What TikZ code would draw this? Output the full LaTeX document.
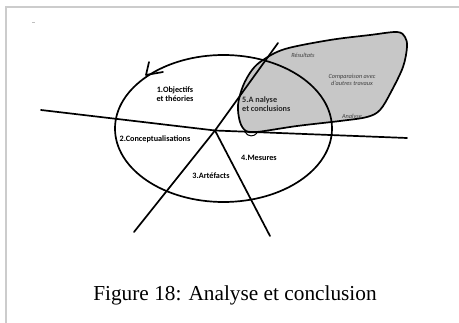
\documentclass[tikz,border=0pt]{standalone}
\usepackage{fontspec}
\setmainfont{Liberation Serif}
\newfontfamily\labfont{Carlito}
\begin{document}
\begin{tikzpicture}[x=1pt,y=-1pt,
  frameline/.style={draw=black!20,line width=1.3pt},
  stroke/.style={line width=1.7pt,line cap=round,line join=round},
  mainlabel/.style={font=\labfont\bfseries\fontsize{8.2}{9}\selectfont,align=center,inner sep=0pt},
  sublabel/.style={font=\labfont\itshape\fontsize{6.3}{7.5}\selectfont,text=black!75,align=center,inner sep=0pt},
  caption/.style={font=\fontsize{21.3}{24}\selectfont,inner sep=0pt}]
\useasboundingbox (0,0) rectangle (459,323);
\fill[white] (0,0) rectangle (459,323);

% page frame
\draw[frameline] (6,323) -- (6,7) -- (459,7);
\draw[black!25,line width=0.8pt] (32,22) -- (35,22);

% shaded results region
\draw[stroke,fill=black!22] plot[smooth cycle,tension=0.55] coordinates {
  (263,60) (285,49) (330,40) (370,35) (397,32) (405,37) (407,47) (403,67)
  (391,92) (380,110) (367,117) (340,121) (297,126) (257,132) (246,131)
  (240,122) (238,105) (243,86) (252,70)};
\draw[line width=1pt] (245,132) .. controls (248,137) and (254,137) .. (257,133);

% research cycle
\draw[stroke] (223.5,128.5) ellipse [x radius=108.5, y radius=73.5];
\coordinate (tip) at (146,75);
\coordinate (barbA) at (149,62);
\coordinate (barbB) at (163,72);
\draw[stroke] (barbA) -- (tip) -- (barbB);

% dividing lines through the hub
\coordinate (hub) at (215,130.5);
\coordinate (westEnd) at (41,110);
\coordinate (eastEnd) at (407,138);
\coordinate (swEnd) at (134,232);
\coordinate (neEnd) at (278,43);
\coordinate (sEnd) at (270,236);
\draw[stroke] (westEnd) -- (hub) -- (eastEnd);
\draw[stroke] (swEnd) -- (hub) -- (neEnd);
\draw[stroke] (hub) -- (sEnd);

% phase labels
\node[mainlabel] (objectifs) at (175,94.5) {1.Objectifs\\et théories};
\node[mainlabel,align=left,anchor=west,text=black!85] (analyse) at (242,104.5) {5.A nalyse\\et conclusions};
\node[mainlabel] (concept) at (155,139) {2.Conceptualisations};
\node[mainlabel] (mesures) at (259,158) {4.Mesures};
\node[mainlabel] (artefacts) at (211,176) {3.Artéfacts};

% annotations inside the shaded region
\node[sublabel] (resultats) at (303,55) {Résultats};
\node[sublabel] (comparaison) at (352,80) {Comparaison avec\\d'autres travaux};
\node[sublabel] (analyseNote) at (352,117) {Analyse};

% caption
\node[caption] (cap) at (235,295) {Figure 18: Analyse et conclusion};
\end{tikzpicture}
\end{document}
